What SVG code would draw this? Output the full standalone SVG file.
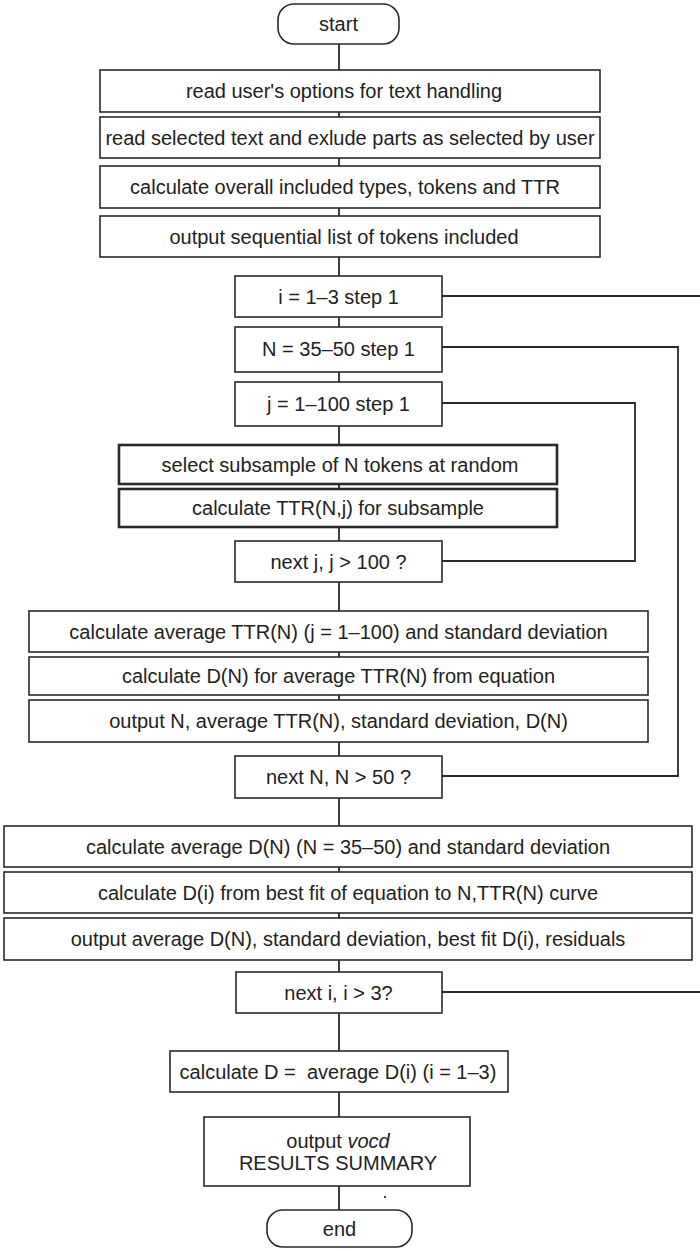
<svg xmlns="http://www.w3.org/2000/svg" width="700" height="1251" viewBox="0 0 700 1251">
<style>
.b{fill:#fff;stroke:#2a2a2a;stroke-width:1.6}
.bt{fill:#fff;stroke:#2a2a2a;stroke-width:2.6}
.c{fill:none;stroke:#2a2a2a;stroke-width:1.8}
text{font-family:"Liberation Sans",Arial,sans-serif;font-size:20px;fill:#222;text-anchor:middle;dominant-baseline:central}
</style>
<rect width="700" height="1251" fill="#fff"/>
<g id="connectors">
<line class="c" x1="339" y1="44" x2="339" y2="1210"/>
<polyline class="c" points="442,296 700,296"/>
<polyline class="c" points="442,347 678,347 678,776 442,776"/>
<polyline class="c" points="442,403 635,403 635,561 442,561"/>
<polyline class="c" points="442,992 700,992"/>
</g>
<g id="start"><rect class="b" x="278" y="4" width="121" height="40" rx="16"/><text x="338.5" y="24">start</text></g>
<g id="n1"><rect class="b" x="100" y="70" width="500" height="42"/><text x="344" y="91">read user's options for text handling</text></g>
<g id="n2"><rect class="b" x="100" y="117" width="500" height="41"/><text x="350" y="137.5">read selected text and exlude parts as selected by user</text></g>
<g id="n3"><rect class="b" x="100" y="166" width="500" height="42"/><text x="345" y="187">calculate overall included types, tokens and TTR</text></g>
<g id="n4"><rect class="b" x="100" y="216" width="500" height="41"/><text x="344" y="236.5">output sequential list of tokens included</text></g>
<g id="loopi"><rect class="b" x="235" y="276" width="207" height="41"/><text x="338.5" y="296.5">i = 1–3 step 1</text></g>
<g id="loopN"><rect class="b" x="235" y="327" width="207" height="45"/><text x="338.5" y="349">N = 35–50 step 1</text></g>
<g id="loopj"><rect class="b" x="235" y="382" width="207" height="44"/><text x="338.5" y="404">j = 1–100 step 1</text></g>
<g id="n5"><rect class="bt" x="119" y="445" width="438" height="39"/><text x="340" y="464.5">select subsample of N tokens at random</text></g>
<g id="n6"><rect class="bt" x="119" y="489" width="438" height="38"/><text x="338" y="508">calculate TTR(N,j) for subsample</text></g>
<g id="nextj"><rect class="b" x="235" y="541" width="207" height="41"/><text x="338.5" y="561.5">next j, j &gt; 100 ?</text></g>
<g id="n7"><rect class="b" x="29" y="611" width="619" height="41"/><text x="338.5" y="631.5">calculate average TTR(N) (j = 1–100) and standard deviation</text></g>
<g id="n8"><rect class="b" x="29" y="657" width="619" height="38"/><text x="338.5" y="676">calculate D(N) for average TTR(N) from equation</text></g>
<g id="n9"><rect class="b" x="29" y="700" width="619" height="42"/><text x="338.5" y="721">output N, average TTR(N), standard deviation, D(N)</text></g>
<g id="nextN"><rect class="b" x="235" y="756" width="207" height="42"/><text x="338.5" y="777">next N, N &gt; 50 ?</text></g>
<g id="n10"><rect class="b" x="4" y="826" width="688" height="41"/><text x="348" y="846.5">calculate average D(N) (N = 35–50) and standard deviation</text></g>
<g id="n11"><rect class="b" x="4" y="872" width="688" height="41"/><text x="348" y="892.5">calculate D(i) from best fit of equation to N,TTR(N) curve</text></g>
<g id="n12"><rect class="b" x="4" y="918" width="688" height="42"/><text x="348" y="939">output average D(N), standard deviation, best fit D(i), residuals</text></g>
<g id="nexti"><rect class="b" x="236" y="972" width="206" height="41"/><text x="338.5" y="992.5">next i, i &gt; 3?</text></g>
<g id="n13"><rect class="b" x="170" y="1051" width="338" height="41"/><text x="338" y="1071.5">calculate D =&#160; average D(i) (i = 1–3)</text></g>
<g id="n14"><rect class="b" x="204" y="1117" width="266" height="69"/><text x="338" y="1141">output <tspan font-style="italic">vocd</tspan></text><text x="338" y="1163">RESULTS SUMMARY</text></g>
<rect x="384" y="1196" width="2" height="2" fill="#444"/>
<g id="end"><rect class="b" x="267" y="1210" width="145" height="37" rx="16"/><text x="339.5" y="1229">end</text></g>
</svg>
